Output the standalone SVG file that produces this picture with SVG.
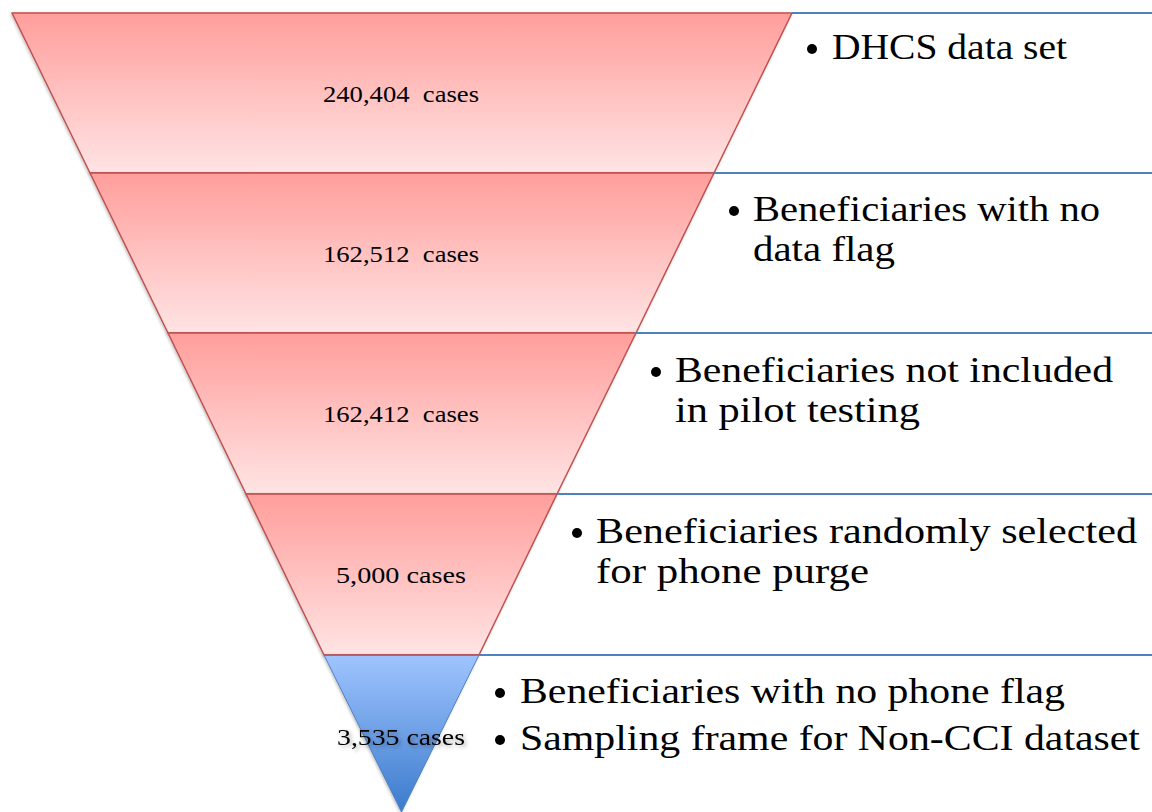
<svg xmlns="http://www.w3.org/2000/svg" width="1152" height="812" viewBox="0 0 1152 812">
<style>
.band{stroke:#c0504d;stroke-width:1.5;stroke-linejoin:round}
.tip{stroke:#4f81bd;stroke-width:1;stroke-linejoin:round}
.div{stroke:#4f81bd;stroke-width:1.8;fill:none}
.lbl{font-family:"Liberation Serif",serif;font-size:23px;fill:#000;text-anchor:middle}
.txt{font-family:"Liberation Serif",serif;font-size:36px;fill:#000}
.bul{fill:#000}
</style>
<defs>
<linearGradient id="gr" x1="0" y1="0" x2="0" y2="1">
<stop offset="0" stop-color="#ff9e9b"/>
<stop offset="1" stop-color="#ffe4e4"/>
</linearGradient>
<linearGradient id="gb" x1="0" y1="0" x2="0" y2="1">
<stop offset="0" stop-color="#a0c4ff"/>
<stop offset="1" stop-color="#3b7bcc"/>
</linearGradient>
<filter id="sh" x="-20%" y="-20%" width="140%" height="140%">
<feGaussianBlur in="SourceAlpha" stdDeviation="2"/>
<feOffset dx="2" dy="2"/>
<feComponentTransfer><feFuncA type="linear" slope="0.35"/></feComponentTransfer>
<feMerge><feMergeNode/><feMergeNode in="SourceGraphic"/></feMerge>
</filter>
<filter id="ps" x="-5%" y="-5%" width="110%" height="110%">
<feGaussianBlur in="SourceAlpha" stdDeviation="1.5"/>
<feOffset dx="-1" dy="1"/>
<feComponentTransfer><feFuncA type="linear" slope="0.25"/></feComponentTransfer>
<feMerge><feMergeNode/><feMergeNode in="SourceGraphic"/></feMerge>
</filter>
</defs>
<rect width="1152" height="812" fill="#fff"/>

<g id="band1">
<polygon class="band" fill="url(#gr)" filter="url(#ps)" points="12,13 792,13 714,173 90,173"/>
<text class="lbl" x="401" y="102" textLength="156" lengthAdjust="spacingAndGlyphs" xml:space="preserve">240,404  cases</text>
</g>
<g id="band2">
<polygon class="band" fill="url(#gr)" filter="url(#ps)" points="90,173 714,173 636,333 168,333"/>
<text class="lbl" x="401" y="262" textLength="156" lengthAdjust="spacingAndGlyphs" xml:space="preserve">162,512  cases</text>
</g>
<g id="band3">
<polygon class="band" fill="url(#gr)" filter="url(#ps)" points="168,333 636,333 557,494 246,494"/>
<text class="lbl" x="401" y="422" textLength="156" lengthAdjust="spacingAndGlyphs" xml:space="preserve">162,412  cases</text>
</g>
<g id="band4">
<polygon class="band" fill="url(#gr)" filter="url(#ps)" points="246,494 557,494 479,655 324,655"/>
<text class="lbl" x="401" y="583" textLength="130" lengthAdjust="spacingAndGlyphs">5,000 cases</text>
</g>
<g id="band5">
<polygon class="tip" fill="url(#gb)" filter="url(#ps)" points="324,655 479,655 401.5,812"/>
<line x1="324" y1="655" x2="479" y2="655" stroke="#c0504d" stroke-width="1.5"/>
<text class="lbl" x="401" y="745" textLength="128" lengthAdjust="spacingAndGlyphs" filter="url(#sh)">3,535 cases</text>
</g>

<g id="dividers">
<line class="div" x1="792" y1="13" x2="1152" y2="13"/>
<line class="div" x1="714" y1="173" x2="1152" y2="173"/>
<line class="div" x1="636" y1="333" x2="1152" y2="333"/>
<line class="div" x1="557" y1="494" x2="1152" y2="494"/>
<line class="div" x1="479" y1="655" x2="1152" y2="655"/>
</g>

<g id="text1">
<circle class="bul" cx="812" cy="49" r="5"/>
<text class="txt" x="832" y="59" textLength="235" lengthAdjust="spacingAndGlyphs">DHCS data set</text>
</g>
<g id="text2">
<circle class="bul" cx="734" cy="211" r="5"/>
<text class="txt" x="753" y="221" textLength="347" lengthAdjust="spacingAndGlyphs">Beneficiaries with no</text>
<text class="txt" x="753" y="261" textLength="142" lengthAdjust="spacingAndGlyphs">data flag</text>
</g>
<g id="text3">
<circle class="bul" cx="656" cy="372" r="5"/>
<text class="txt" x="675" y="382" textLength="438" lengthAdjust="spacingAndGlyphs">Beneficiaries not included</text>
<text class="txt" x="675" y="422" textLength="245" lengthAdjust="spacingAndGlyphs">in pilot testing</text>
</g>
<g id="text4">
<circle class="bul" cx="577" cy="533" r="5"/>
<text class="txt" x="596" y="543" textLength="541" lengthAdjust="spacingAndGlyphs">Beneficiaries randomly selected</text>
<text class="txt" x="596" y="583" textLength="273" lengthAdjust="spacingAndGlyphs">for phone purge</text>
</g>
<g id="text5">
<circle class="bul" cx="500" cy="693" r="5"/>
<text class="txt" x="520" y="703" textLength="545" lengthAdjust="spacingAndGlyphs">Beneficiaries with no phone flag</text>
<circle class="bul" cx="500" cy="740" r="5"/>
<text class="txt" x="520" y="750" textLength="620" lengthAdjust="spacingAndGlyphs">Sampling frame for Non-CCI dataset</text>
</g>
</svg>
